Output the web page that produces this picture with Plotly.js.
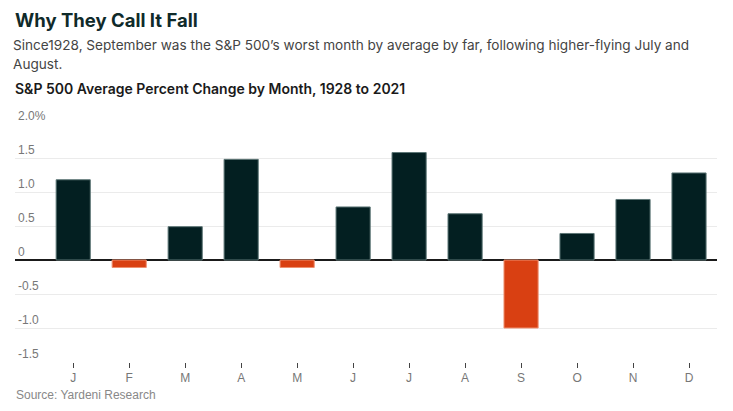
<!DOCTYPE html>
<html>
<head>
<meta charset="utf-8">
<script src="https://cdn.plot.ly/plotly-3.0.1.min.js"></script>
<style>html,body{margin:0;padding:0;background:#fff;}#chart{width:733px;height:411px;}</style>
</head>
<body>
<div id="chart"></div>
<script>
const months = ["Jan","Feb","Mar","Apr","May","Jun","Jul","Aug","Sep","Oct","Nov","Dec"];
const monthLabels = ["J","F","M","A","M","J","J","A","S","O","N","D"];
const avgChange = [1.18, -0.11, 0.49, 1.48, -0.11, 0.78, 1.58, 0.68, -1.0, 0.39, 0.89, 1.28];
const yTickVals = [-1.5, -1.0, -0.5, 0, 0.5, 1.0, 1.5, 2.0];
const yTickText = ["-1.5", "-1.0", "-0.5", "0", "0.5", "1.0", "1.5", "2.0%"];

const W = 733, H = 411;
const M = {l: 15, r: 16, t: 124, b: 49};
const pw = W - M.l - M.r, ph = H - M.t - M.b;
const px = x => (x - M.l) / pw;
const py = y => (H - M.b - y) / ph;

const headFont = 'Inter, "Noto Sans", Roboto, sans-serif';
const plain = '"Liberation Sans", Arial, Helvetica, sans-serif';

const trace = {
  type: "bar",
  x: months,
  y: avgChange,
  width: 0.61,
  marker: {
    color: avgChange.map(v => v < 0 ? "#d94012" : "#031f21"),
    line: {color: avgChange.map(v => v < 0 ? "#ee9070" : "#5d7676"), width: 1}
  },
  hoverinfo: "x+y"
};

const layout = {
  width: W, height: H,
  margin: M,
  paper_bgcolor: "#ffffff",
  plot_bgcolor: "#ffffff",
  showlegend: false,
  xaxis: {
    type: "category",
    range: [-1.04, 11.5],
    tickvals: months,
    ticktext: monthLabels,
    ticks: "outside",
    ticklen: 5,
    tickwidth: 1,
    tickcolor: "#444",
    showgrid: false,
    showline: false,
    zeroline: false,
    tickfont: {family: plain, size: 12, color: "#777"},
    fixedrange: true
  },
  yaxis: {
    range: [-1.5, 2.0],
    tickvals: yTickVals,
    ticktext: yTickText,
    ticklabelposition: "inside top",
    ticklabeloverflow: "allow",
    ticks: "",
    showgrid: true,
    gridcolor: "#ebebeb",
    gridwidth: 1,
    zeroline: true,
    zerolinecolor: "#1a1a1a",
    zerolinewidth: 1.3,
    showline: false,
    tickfont: {family: plain, size: 12, color: "#777"},
    fixedrange: true
  },
  annotations: [
    {text: "Why They Call It Fall", xref: "paper", yref: "paper", x: px(13), y: py(20),
     xanchor: "left", yanchor: "middle", showarrow: false,
     font: {family: headFont, size: 18.5, color: "#0f2a2a", weight: 700}},
    {text: "Since1928, September was the S&P 500\u2019s worst month by average by far, following higher-flying July and",
     xref: "paper", yref: "paper", x: px(11), y: py(45), xanchor: "left", yanchor: "middle", showarrow: false,
     font: {family: headFont, size: 13.6, color: "#444"}},
    {text: "August.", xref: "paper", yref: "paper", x: px(11), y: py(64), xanchor: "left", yanchor: "middle", showarrow: false,
     font: {family: headFont, size: 13.6, color: "#444"}},
    {text: "S&P 500 Average Percent Change by Month, 1928 to 2021", xref: "paper", yref: "paper", x: px(13), y: py(88),
     xanchor: "left", yanchor: "middle", showarrow: false,
     font: {family: headFont, size: 14, color: "#1a1a1a", weight: 600}},
    {text: "Source: Yardeni Research", xref: "paper", yref: "paper", x: px(14), y: py(395),
     xanchor: "left", yanchor: "middle", showarrow: false,
     font: {family: plain, size: 12, color: "#888"}}
  ]
};

Plotly.newPlot("chart", [trace], layout, {displayModeBar: false, staticPlot: true});
</script>
</body>
</html>
